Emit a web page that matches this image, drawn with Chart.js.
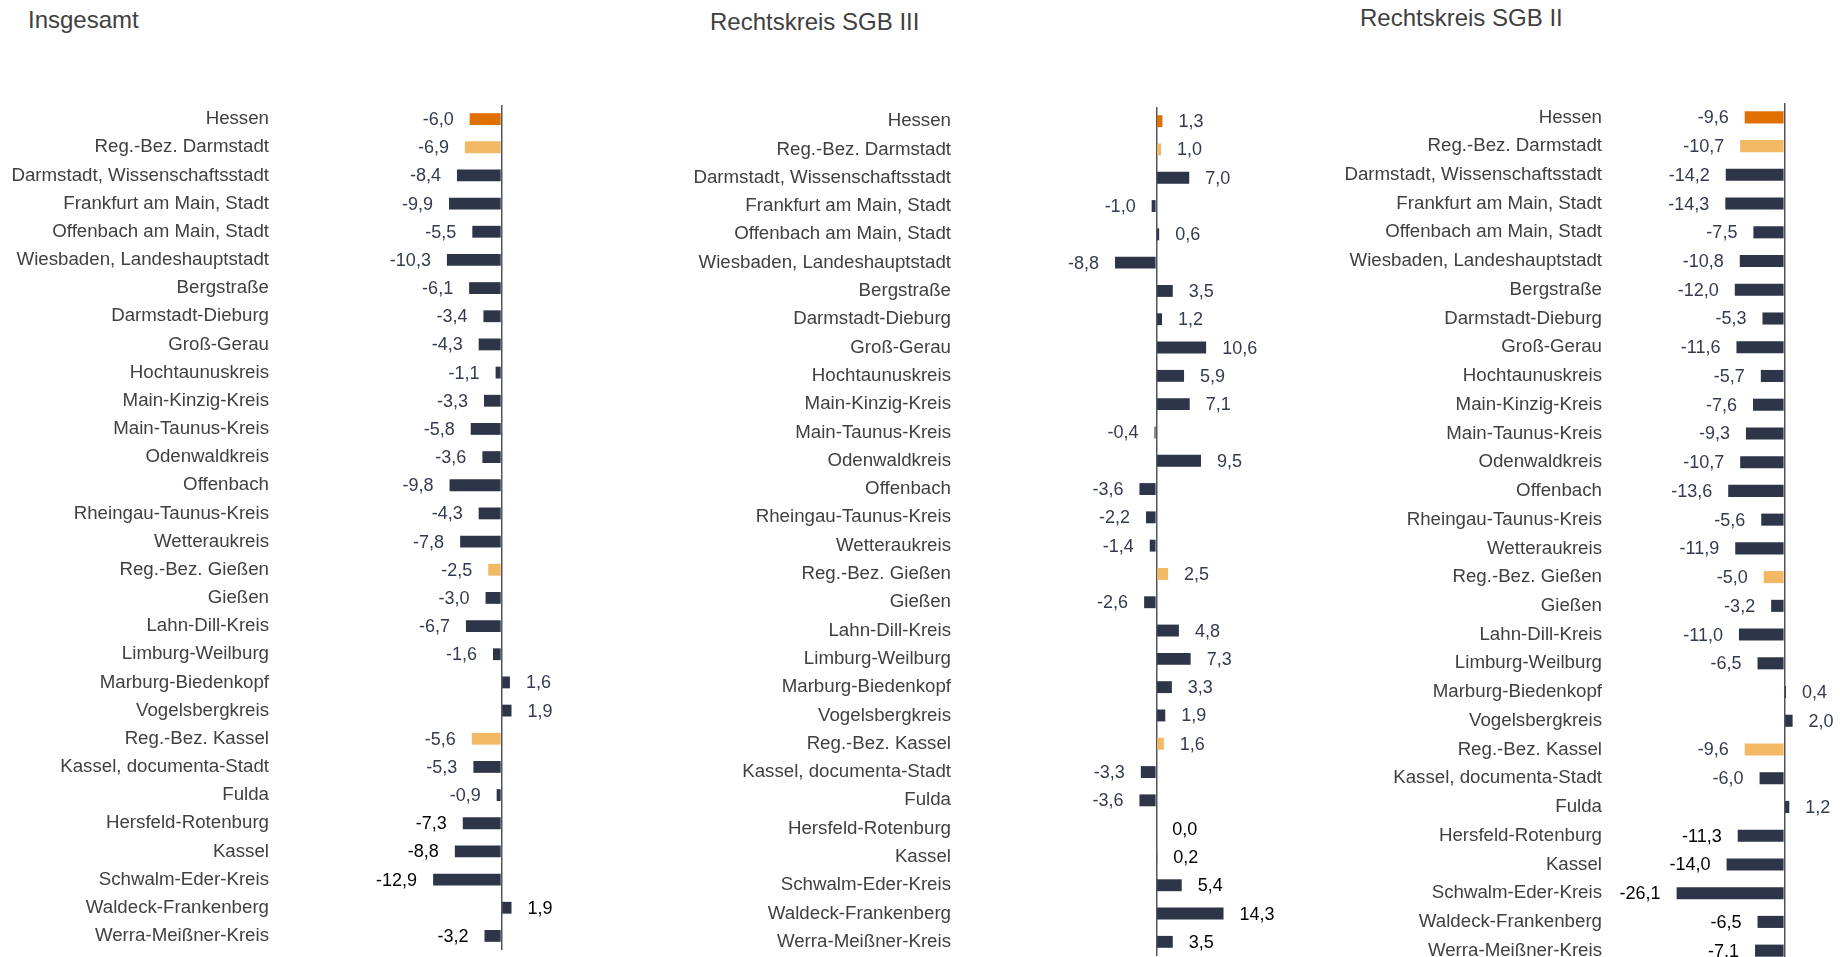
<!DOCTYPE html>
<html lang="de">
<head>
<meta charset="utf-8">
<title>Veränderung Arbeitslose Hessen</title>
<script src="https://cdn.jsdelivr.net/npm/chart.js@4.4.1/dist/chart.umd.min.js"></script>
<style>
	html, body { margin: 0; padding: 0; background: #ffffff; overflow: hidden; }
	body { width: 1840px; height: 957px; position: relative; }
	.title {
		position: absolute;
		font-family: 'Liberation Sans', Arial, sans-serif;
		font-size: 24px;
		line-height: 24px;
		color: #404040;
		white-space: nowrap;
	}
	canvas { position: absolute; }
</style>
</head>
<body>
<div class="title" style="left:28px; top:8px;">Insgesamt</div>
<div class="title" style="left:710px; top:10px;">Rechtskreis SGB III</div>
<div class="title" style="left:1360px; top:6px;">Rechtskreis SGB II</div>

<canvas id="chartTotal" width="565" height="845" style="left:0px; top:105px;"></canvas>
<canvas id="chartSgb3" width="662" height="849" style="left:640px; top:107px;"></canvas>
<canvas id="chartSgb2" width="528" height="862" style="left:1310px; top:103px;"></canvas>

<script>
const regions = [
	'Hessen',
	'Reg.-Bez. Darmstadt',
	'Darmstadt, Wissenschaftsstadt',
	'Frankfurt am Main, Stadt',
	'Offenbach am Main, Stadt',
	'Wiesbaden, Landeshauptstadt',
	'Bergstraße',
	'Darmstadt-Dieburg',
	'Groß-Gerau',
	'Hochtaunuskreis',
	'Main-Kinzig-Kreis',
	'Main-Taunus-Kreis',
	'Odenwaldkreis',
	'Offenbach',
	'Rheingau-Taunus-Kreis',
	'Wetteraukreis',
	'Reg.-Bez. Gießen',
	'Gießen',
	'Lahn-Dill-Kreis',
	'Limburg-Weilburg',
	'Marburg-Biedenkopf',
	'Vogelsbergkreis',
	'Reg.-Bez. Kassel',
	'Kassel, documenta-Stadt',
	'Fulda',
	'Hersfeld-Rotenburg',
	'Kassel',
	'Schwalm-Eder-Kreis',
	'Waldeck-Frankenberg',
	'Werra-Meißner-Kreis',
];

// Veränderung in %
const totalValues = [
	-6.0, -6.9, -8.4, -9.9, -5.5, -10.3, -6.1, -3.4, -4.3, -1.1,
	-3.3, -5.8, -3.6, -9.8, -4.3, -7.8, -2.5, -3.0, -6.7, -1.6,
	1.6, 1.9, -5.6, -5.3, -0.9, -7.3, -8.8, -12.9, 1.9, -3.2,
];
const sgb3Values = [
	1.3, 1.0, 7.0, -1.0, 0.6, -8.8, 3.5, 1.2, 10.6, 5.9,
	7.1, -0.4, 9.5, -3.6, -2.2, -1.4, 2.5, -2.6, 4.8, 7.3,
	3.3, 1.9, 1.6, -3.3, -3.6, 0.0, 0.2, 5.4, 14.3, 3.5,
];
const sgb2Values = [
	-9.6, -10.7, -14.2, -14.3, -7.5, -10.8, -12.0, -5.3, -11.6, -5.7,
	-7.6, -9.3, -10.7, -13.6, -5.6, -11.9, -5.0, -3.2, -11.0, -6.5,
	0.4, 2.0, -9.6, -6.0, 1.2, -11.3, -14.0, -26.1, -6.5, -7.1,
];

const FONT = "'Liberation Sans', Arial, sans-serif";
const landColor = '#e07000';
const bezirkColor = '#f2b864';
const kreisColor = '#2e3548';

const barColor = (name, i) => {
	if (i === 0) return landColor;
	if (name.startsWith('Reg.-Bez.')) return bezirkColor;
	return kreisColor;
};

// draws the numbers next to the bars (German decimal comma)
const valueLabels = {
	id: 'valueLabels',
	afterDatasetsDraw(chart) {
		const ctx = chart.ctx;
		const meta = chart.getDatasetMeta(0);
		const data = chart.data.datasets[0].data;
		ctx.save();
		ctx.font = '18px ' + FONT;
		ctx.textBaseline = 'middle';
		meta.data.forEach((bar, i) => {
			const v = data[i];
			const txt = v.toFixed(1).replace('.', ',');
			ctx.fillStyle = i >= 25 ? '#000000' : '#333b50';
			if (v >= 0) {
				ctx.textAlign = 'left';
				ctx.fillText(txt, bar.x + 16, bar.y + 1);
			} else {
				ctx.textAlign = 'right';
				ctx.fillText(txt, bar.x - 16, bar.y + 1);
			}
		});
		ctx.restore();
	},
};

const noPadding = (scale) => {
	scale.paddingTop = 0;
	scale.paddingBottom = 0;
	scale.paddingLeft = 0;
	scale.paddingRight = 0;
};

const makeChart = (id, values, labelWidth, labelPad, xMin, xMax) => {
	return new Chart(document.getElementById(id), {
		type: 'bar',
		data: {
			labels: regions,
			datasets: [
				{
					data: values,
					backgroundColor: regions.map(barColor),
					borderWidth: 0,
					barPercentage: 0.42,
					categoryPercentage: 1,
				},
			],
		},
		options: {
			indexAxis: 'y',
			responsive: false,
			animation: false,
			devicePixelRatio: 1,
			layout: { padding: 0 },
			plugins: {
				legend: { display: false },
				title: { display: false },
				tooltip: { enabled: false },
			},
			scales: {
				x: {
					min: xMin,
					max: xMax,
					ticks: { display: false },
					border: { display: false },
					grid: {
						drawTicks: false,
						lineWidth: 1.5,
						color: (c) => (c.tick && c.tick.value === 0 ? '#50555f' : 'rgba(0,0,0,0)'),
					},
					afterFit: (scale) => {
						scale.height = 0;
						noPadding(scale);
					},
				},
				y: {
					grid: { display: false, drawTicks: false },
					border: { display: false },
					ticks: {
						autoSkip: false,
						padding: labelPad,
						color: '#404040',
						font: { family: FONT, size: 18.7 },
					},
					afterFit: (scale) => {
						scale.width = labelWidth;
						noPadding(scale);
					},
				},
			},
		},
		plugins: [valueLabels],
	});
};

makeChart('chartTotal', totalValues, 279, 10, -42, 12);
makeChart('chartSgb3', sgb3Values, 319, 8, -42, 31);
makeChart('chartSgb2', sgb2Values, 301, 9, -42, 13);
</script>
</body>
</html>
